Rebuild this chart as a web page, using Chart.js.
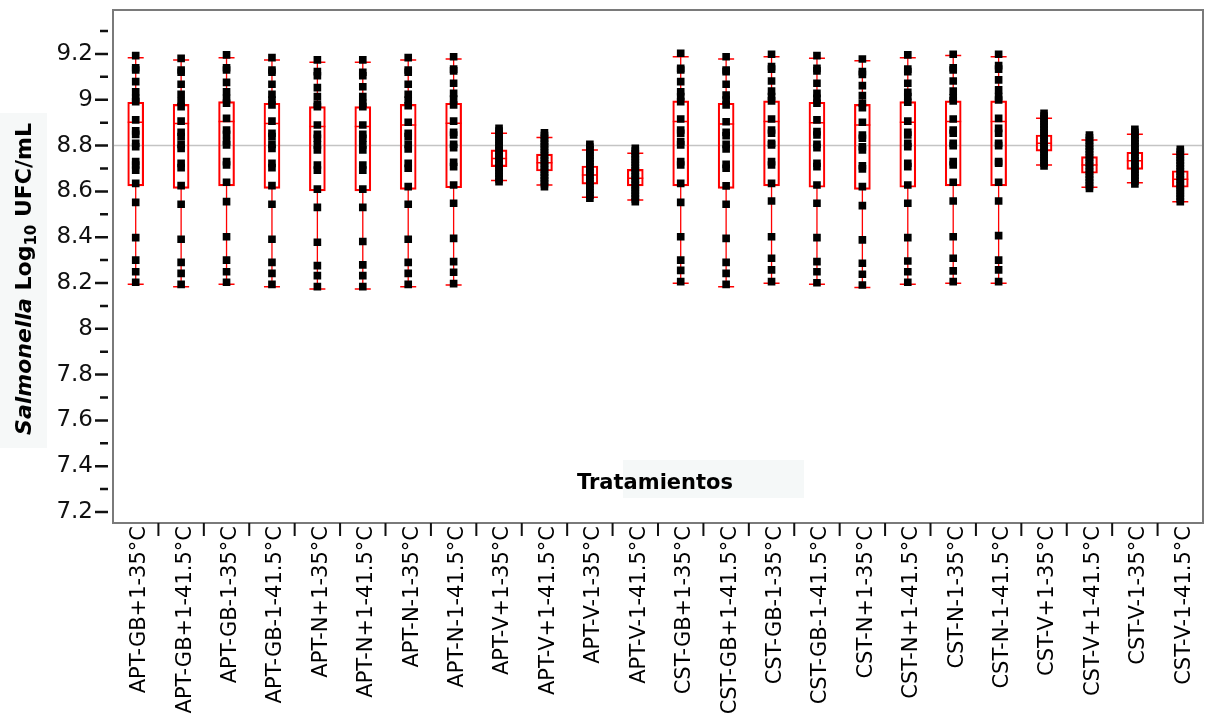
<!DOCTYPE html>
<html>
<head>
<meta charset="utf-8">
<script src="https://cdn.jsdelivr.net/npm/chart.js@4.4.0/dist/chart.umd.min.js"></script>
<style>
html,body{margin:0;padding:0;background:#fff;}
canvas{display:block;}
</style>
</head>
<body>
<canvas id="c" width="1214" height="717"></canvas>
<script>
const categories = ["APT-GB+1-35°C","APT-GB+1-41.5°C","APT-GB-1-35°C","APT-GB-1-41.5°C","APT-N+1-35°C","APT-N+1-41.5°C","APT-N-1-35°C","APT-N-1-41.5°C","APT-V+1-35°C","APT-V+1-41.5°C","APT-V-1-35°C","APT-V-1-41.5°C","CST-GB+1-35°C","CST-GB+1-41.5°C","CST-GB-1-35°C","CST-GB-1-41.5°C","CST-N+1-35°C","CST-N+1-41.5°C","CST-N-1-35°C","CST-N-1-41.5°C","CST-V+1-35°C","CST-V+1-41.5°C","CST-V-1-35°C","CST-V-1-41.5°C"];

const q3 = [8.989,8.980,8.992,8.985,8.970,8.970,8.980,8.985, 8.781,8.763,8.711,8.696, 8.995,8.985,8.995,8.989,8.980,8.992,8.995,8.995, 8.846,8.752,8.771,8.690];
const median = [8.902,8.896,8.905,8.896,8.883,8.883,8.890,8.897, 8.744,8.725,8.672,8.657, 8.905,8.894,8.905,8.900,8.890,8.902,8.905,8.905, 8.810,8.715,8.734,8.653];
const q1 = [8.624,8.613,8.624,8.613,8.602,8.602,8.609,8.616, 8.708,8.689,8.632,8.624, 8.624,8.613,8.624,8.618,8.609,8.618,8.624,8.624, 8.776,8.679,8.696,8.618];
const whiskerHigh = [9.184,9.174,9.184,9.174,9.164,9.164,9.174,9.178, 8.854,8.835,8.781,8.766, 9.188,9.178,9.188,9.181,9.170,9.184,9.193,9.188, 8.919,8.824,8.849,8.762];
const whiskerLow = [8.194,8.184,8.194,8.184,8.174,8.174,8.184,8.191, 8.647,8.628,8.574,8.562, 8.199,8.184,8.199,8.194,8.180,8.194,8.199,8.199, 8.715,8.618,8.638,8.555];

const pointsByCategory = [
 [9.193,9.140,9.130,9.079,9.035,9.006,8.992,8.912,8.864,8.849,8.810,8.795,8.730,8.715,8.693,8.635,8.552,8.398,8.300,8.249,8.203],
 [9.181,9.130,9.120,9.068,9.024,8.992,8.970,8.907,8.858,8.839,8.805,8.788,8.722,8.704,8.625,8.544,8.391,8.290,8.242,8.194],
 [9.196,9.140,9.130,9.076,9.035,9.006,8.985,8.919,8.868,8.849,8.817,8.803,8.730,8.715,8.640,8.555,8.402,8.300,8.249,8.203],
 [9.184,9.130,9.120,9.068,9.024,8.999,8.977,8.907,8.854,8.839,8.805,8.788,8.722,8.704,8.625,8.544,8.391,8.290,8.242,8.194],
 [9.174,9.123,9.105,9.053,9.014,8.980,8.970,8.890,8.849,8.832,8.803,8.781,8.715,8.693,8.610,8.530,8.378,8.276,8.232,8.184],
 [9.174,9.120,9.105,9.057,9.014,8.985,8.970,8.890,8.849,8.832,8.803,8.781,8.715,8.693,8.610,8.530,8.381,8.279,8.232,8.184],
 [9.184,9.130,9.120,9.068,9.024,8.999,8.974,8.902,8.854,8.839,8.805,8.785,8.722,8.701,8.621,8.544,8.391,8.290,8.242,8.194],
 [9.188,9.134,9.126,9.072,9.028,9.003,8.977,8.907,8.858,8.846,8.806,8.791,8.727,8.708,8.628,8.548,8.395,8.293,8.247,8.197],
 [8.875,8.863,8.850,8.839,8.826,8.814,8.801,8.789,8.777,8.764,8.752,8.739,8.727,8.716,8.703,8.691,8.679,8.666,8.654,8.642],
 [8.856,8.844,8.832,8.819,8.807,8.795,8.783,8.770,8.758,8.746,8.733,8.721,8.709,8.696,8.684,8.671,8.659,8.646,8.634,8.621],
 [8.806,8.794,8.781,8.769,8.757,8.744,8.732,8.720,8.707,8.695,8.682,8.670,8.658,8.645,8.633,8.620,8.608,8.595,8.583,8.570],
 [8.788,8.776,8.764,8.751,8.739,8.727,8.714,8.702,8.690,8.677,8.665,8.653,8.641,8.628,8.616,8.604,8.592,8.579,8.567,8.555],
 [9.203,9.137,9.130,9.079,9.035,9.014,8.992,8.916,8.868,8.854,8.817,8.803,8.730,8.715,8.635,8.552,8.402,8.300,8.255,8.206],
 [9.188,9.130,9.123,9.068,9.021,8.999,8.977,8.904,8.858,8.843,8.805,8.785,8.718,8.701,8.624,8.544,8.395,8.290,8.242,8.194],
 [9.199,9.145,9.134,9.082,9.038,9.014,8.995,8.916,8.868,8.854,8.810,8.803,8.730,8.715,8.635,8.558,8.402,8.308,8.257,8.206],
 [9.193,9.137,9.126,9.072,9.028,9.006,8.985,8.912,8.861,8.846,8.806,8.791,8.723,8.708,8.628,8.548,8.398,8.293,8.249,8.201],
 [9.178,9.123,9.111,9.062,9.018,8.985,8.966,8.902,8.846,8.832,8.795,8.781,8.712,8.698,8.621,8.538,8.388,8.286,8.238,8.191],
 [9.196,9.134,9.123,9.072,9.033,9.014,8.989,8.907,8.858,8.846,8.810,8.795,8.723,8.708,8.628,8.548,8.398,8.296,8.249,8.203],
 [9.199,9.140,9.130,9.082,9.038,9.009,8.995,8.916,8.868,8.854,8.810,8.800,8.730,8.715,8.640,8.558,8.402,8.308,8.253,8.206],
 [9.199,9.149,9.134,9.087,9.043,9.014,8.999,8.919,8.875,8.854,8.810,8.800,8.730,8.723,8.640,8.558,8.407,8.300,8.257,8.206],
 [8.941,8.929,8.917,8.905,8.893,8.881,8.869,8.857,8.845,8.833,8.820,8.808,8.796,8.784,8.772,8.760,8.748,8.736,8.723,8.711],
 [8.846,8.834,8.822,8.809,8.797,8.785,8.773,8.760,8.748,8.736,8.724,8.711,8.699,8.687,8.675,8.662,8.650,8.638,8.625,8.613],
 [8.871,8.858,8.846,8.833,8.821,8.808,8.796,8.783,8.771,8.758,8.746,8.733,8.721,8.708,8.696,8.683,8.671,8.658,8.645,8.632],
 [8.784,8.772,8.760,8.748,8.736,8.724,8.712,8.699,8.687,8.675,8.663,8.651,8.639,8.627,8.615,8.603,8.591,8.579,8.567,8.555]
];

const yMajorTicks = [7.2,7.4,7.6,7.8,8.0,8.2,8.4,8.6,8.8,9.0,9.2];
const yMinorTicks = [7.3,7.5,7.7,7.9,8.1,8.3,8.5,8.7,8.9,9.1,9.3];
const referenceValue = 8.8;
const xTitle = "Tratamientos";

const FONT = "'DejaVu Sans', 'Liberation Sans', Arial, sans-serif";

const scatterData = [];
pointsByCategory.forEach((arr, i) => arr.forEach(v => scatterData.push({x: categories[i], y: v})));

const boxPlugin = {
  id: 'boxdecor',
  beforeDraw(chart) {
    const ctx = chart.ctx;
    ctx.save();
    ctx.fillStyle = '#f6f8f8';
    ctx.fillRect(0, 113, 47, 335);
    ctx.restore();
  },
  beforeDatasetsDraw(chart) {
    const ctx = chart.ctx, x = chart.scales.x, y = chart.scales.y, a = chart.chartArea;
    ctx.save();
    ctx.fillStyle = '#f5f8f8';
    ctx.fillRect(623, 460, 181, 38);
    ctx.strokeStyle = '#c4c4c4';
    ctx.lineWidth = 1.5;
    const ry = y.getPixelForValue(referenceValue);
    ctx.beginPath(); ctx.moveTo(a.left, ry); ctx.lineTo(a.right, ry); ctx.stroke();
    ctx.strokeStyle = '#ff0000';
    categories.forEach((c, i) => {
      const cx = x.getPixelForValue(i);
      const yh = y.getPixelForValue(whiskerHigh[i]), yl = y.getPixelForValue(whiskerLow[i]);
      const y3 = y.getPixelForValue(q3[i]), y1 = y.getPixelForValue(q1[i]), ym = y.getPixelForValue(median[i]);
      ctx.lineWidth = 1.3;
      ctx.beginPath();
      ctx.moveTo(cx, yh); ctx.lineTo(cx, y3);
      ctx.moveTo(cx, y1); ctx.lineTo(cx, yl);
      ctx.stroke();
      ctx.lineWidth = 1.5;
      ctx.beginPath();
      ctx.moveTo(cx - 8, yh); ctx.lineTo(cx + 8, yh);
      ctx.moveTo(cx - 8, yl); ctx.lineTo(cx + 8, yl);
      ctx.moveTo(cx - 8, ym); ctx.lineTo(cx + 8, ym);
      ctx.stroke();
    });
    ctx.restore();
  },
  afterDraw(chart) {
    const ctx = chart.ctx, x = chart.scales.x, y = chart.scales.y, a = chart.chartArea;
    ctx.save();
    ctx.strokeStyle = '#7a7a7a';
    ctx.lineWidth = 2;
    ctx.strokeRect(a.left, a.top, a.right - a.left, a.bottom - a.top);
    ctx.strokeStyle = '#111';
    ctx.lineWidth = 2.5;
    ctx.beginPath();
    yMajorTicks.forEach(v => { const p = y.getPixelForValue(v); ctx.moveTo(95, p); ctx.lineTo(108, p); });
    yMinorTicks.forEach(v => { const p = y.getPixelForValue(v); ctx.moveTo(100, p); ctx.lineTo(108, p); });
    ctx.stroke();
    ctx.lineWidth = 2;
    ctx.beginPath();
    for (let i = 1; i < categories.length; i++) {
      const p = (x.getPixelForValue(i - 1) + x.getPixelForValue(i)) / 2;
      ctx.moveTo(p, a.bottom); ctx.lineTo(p, a.bottom + 13);
    }
    ctx.stroke();
    ctx.fillStyle = '#000';
    ctx.font = "bold 21px " + FONT;
    ctx.textBaseline = 'middle';
    ctx.textAlign = 'left';
    ctx.fillText(xTitle, 577, 484);
    const segs = [
      {t: 'Salmonella', f: "italic bold 22px " + FONT, dy: 0},
      {t: ' Log', f: "bold 22px " + FONT, dy: 0},
      {t: '10', f: "bold 15px " + FONT, dy: 5},
      {t: ' UFC/mL', f: "bold 22px " + FONT, dy: 0}
    ];
    let total = 0;
    segs.forEach(s => { ctx.font = s.f; s.w = ctx.measureText(s.t).width; total += s.w; });
    ctx.translate(31, 279);
    ctx.rotate(-Math.PI / 2);
    ctx.textBaseline = 'alphabetic';
    let cur = -total / 2;
    segs.forEach(s => { ctx.font = s.f; ctx.fillText(s.t, cur, s.dy); cur += s.w; });
    ctx.restore();
  }
};

new Chart(document.getElementById('c'), {
  type: 'line',
  data: {
    labels: categories,
    datasets: [
      {
        type: 'line',
        data: scatterData,
        showLine: false,
        pointStyle: 'rect',
        pointRadius: 5.4,
        pointBackgroundColor: '#000',
        pointBorderWidth: 0,
        pointBorderColor: '#000',
        order: 1
      },
      {
        type: 'bar',
        data: categories.map((c, i) => [q1[i], q3[i]]),
        backgroundColor: 'rgba(0,0,0,0)',
        borderColor: '#ff0000',
        borderWidth: 1.5,
        borderSkipped: false,
        barThickness: 16,
        order: 2
      }
    ]
  },
  plugins: [boxPlugin],
  options: {
    responsive: false,
    animation: false,
    devicePixelRatio: 1,
    layout: { padding: { left: 0, top: 10, right: 11, bottom: 0 } },
    plugins: { legend: { display: false }, tooltip: { enabled: false } },
    scales: {
      x: {
        type: 'category',
        offset: true,
        grid: { display: false, drawTicks: false },
        border: { display: false },
        ticks: {
          autoSkip: false, maxRotation: 90, minRotation: 90, padding: 3, labelOffset: 4,
          color: '#000', font: { family: FONT, size: 21 }
        },
        afterFit(s) { s.height = 194; s.paddingLeft = 0; s.paddingRight = 0; }
      },
      y: {
        type: 'linear',
        min: 7.152, max: 9.392,
        grid: { display: false, drawTicks: false },
        border: { display: false },
        afterBuildTicks(s) {
          s.ticks = yMajorTicks.map(v => ({ value: v }));
        },
        ticks: {
          padding: 20, color: '#111',
          font: { family: FONT, size: 23 },
          callback: v => String(Math.round(v * 10) / 10)
        },
        afterFit(s) { s.width = 113; s.paddingTop = 0; s.paddingBottom = 0; }
      }
    }
  }
});
</script>
</body>
</html>
